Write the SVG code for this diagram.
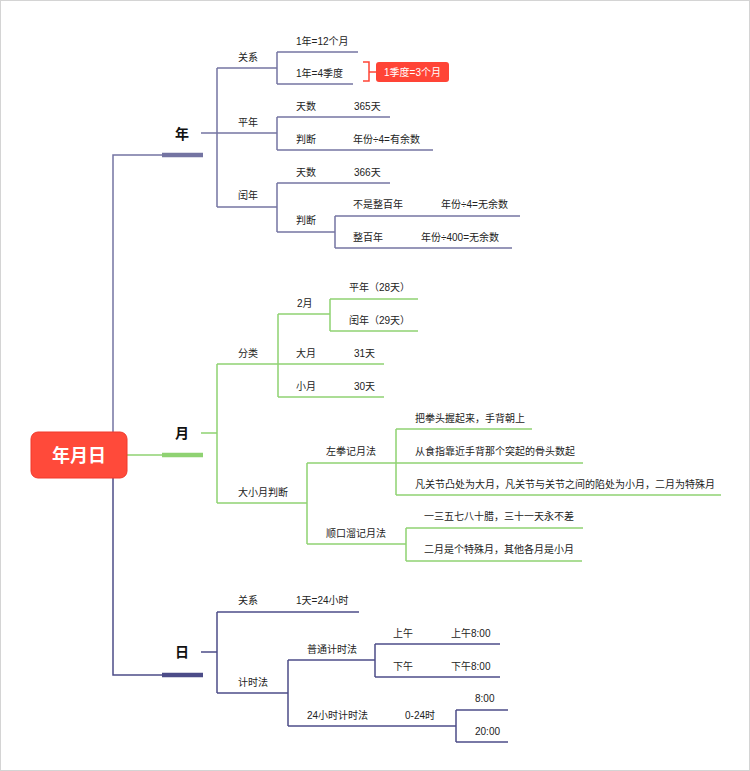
<svg xmlns="http://www.w3.org/2000/svg" width="750" height="771" viewBox="0 0 750 771">
<style>
text{font-family:"Liberation Sans","Noto Sans CJK SC",sans-serif;font-size:10px;fill:#222}
.b{font-weight:bold;font-size:14px;fill:#111}
.root{font-weight:bold;font-size:18px;fill:#fff}
.w{fill:#fff}
line,path{fill:none;stroke-width:1.5}
.y{stroke:#7474a2}
.m{stroke:#8fd272}
.d{stroke:#4c4c88}
.bar{stroke-width:4.5}
</style>
<rect x="0.5" y="0.5" width="749" height="770" fill="#fff" stroke="#d4d4d4"/>
<g id="connectors">
<path class="y" d="M113 455V155H162"/>
<path class="d" d="M113 455V675H162"/>
<path class="m" d="M127 455H162"/>
<line class="y bar" x1="162" y1="155" x2="203" y2="155"/>
<line class="m bar" x1="162" y1="455" x2="203" y2="455"/>
<line class="d bar" x1="162" y1="675" x2="203" y2="675"/>
<path class="y" d="M201 133H217M217 68V207M277 52V84M277 117V150M277 183V232M335 216V248"/>
<path class="m" d="M201 433H217M217 364V503M278 314V397M330 299V331M307 463V544M396 429V495M406 528V561"/>
<path class="d" d="M201 652H217M217 612V693M288 660V726M375 644V677M456 710V742"/>
<path d="M363 62H369V81H363M369 72H376" stroke="#ff4436"/>
</g>
<g id="root"><rect x="31" y="432" width="96" height="46" rx="7" fill="#ff4a3a" stroke="#f0382a"/><text class="root" x="79" y="462" text-anchor="middle">年月日</text></g>
<g id="n-year"><text class="b" x="182" y="139" text-anchor="middle">年</text></g>
<g id="n-month"><text class="b" x="182" y="438" text-anchor="middle">月</text></g>
<g id="n-day"><text class="b" x="182" y="657" text-anchor="middle">日</text></g>
<g id="y-guanxi"><text x="238" y="61">关系</text><line class="y" x1="217" y1="68" x2="277" y2="68"/></g>
<g id="y-12"><text x="296" y="45">1年=12个月</text><line class="y" x1="277" y1="52" x2="358" y2="52"/></g>
<g id="y-4"><text x="296" y="77">1年=4季度</text><line class="y" x1="277" y1="84" x2="353" y2="84"/></g>
<g id="y-callout"><rect x="376" y="62" width="73" height="20" rx="3" fill="#ff4436"/><text class="w" x="412.5" y="76" text-anchor="middle">1季度=3个月</text></g>
<g id="y-pingnian"><text x="238" y="126">平年</text><line class="y" x1="217" y1="133" x2="277" y2="133"/></g>
<g id="y-p-tianshu"><text x="296" y="110">天数</text><line class="y" x1="277" y1="117" x2="340" y2="117"/></g>
<g id="y-p-365"><text x="354" y="110">365天</text><line class="y" x1="340" y1="117" x2="390" y2="117"/></g>
<g id="y-p-panduan"><text x="296" y="143">判断</text><line class="y" x1="277" y1="150" x2="340" y2="150"/></g>
<g id="y-p-rule"><text x="353" y="143">年份÷4=有余数</text><line class="y" x1="340" y1="150" x2="433" y2="150"/></g>
<g id="y-runnian"><text x="238" y="199">闰年</text><line class="y" x1="217" y1="207" x2="277" y2="207"/></g>
<g id="y-r-tianshu"><text x="296" y="176">天数</text><line class="y" x1="277" y1="183" x2="340" y2="183"/></g>
<g id="y-r-366"><text x="354" y="176">366天</text><line class="y" x1="340" y1="183" x2="390" y2="183"/></g>
<g id="y-r-panduan"><text x="296" y="224">判断</text><line class="y" x1="277" y1="232" x2="335" y2="232"/></g>
<g id="y-r-bushi"><text x="353" y="208">不是整百年</text><line class="y" x1="335" y1="216" x2="430" y2="216"/></g>
<g id="y-r-bushi-rule"><text x="441" y="208">年份÷4=无余数</text><line class="y" x1="430" y1="216" x2="520" y2="216"/></g>
<g id="y-r-zheng"><text x="353" y="241">整百年</text><line class="y" x1="335" y1="248" x2="412" y2="248"/></g>
<g id="y-r-zheng-rule"><text x="421" y="241">年份÷400=无余数</text><line class="y" x1="412" y1="248" x2="512" y2="248"/></g>
<g id="m-fenlei"><text x="238" y="357">分类</text><line class="m" x1="217" y1="364" x2="278" y2="364"/></g>
<g id="m-2"><text x="297" y="307">2月</text><line class="m" x1="278" y1="314" x2="330" y2="314"/></g>
<g id="m-28"><text x="349" y="291">平年（28天）</text><line class="m" x1="330" y1="299" x2="418" y2="299"/></g>
<g id="m-29"><text x="349" y="324">闰年（29天）</text><line class="m" x1="330" y1="331" x2="418" y2="331"/></g>
<g id="m-da"><text x="296" y="357">大月</text><line class="m" x1="278" y1="364" x2="340" y2="364"/></g>
<g id="m-31"><text x="354" y="357">31天</text><line class="m" x1="340" y1="364" x2="384" y2="364"/></g>
<g id="m-xiao"><text x="296" y="390">小月</text><line class="m" x1="278" y1="397" x2="340" y2="397"/></g>
<g id="m-30"><text x="354" y="390">30天</text><line class="m" x1="340" y1="397" x2="384" y2="397"/></g>
<g id="m-pd"><text x="238" y="496">大小月判断</text><line class="m" x1="217" y1="503" x2="307" y2="503"/></g>
<g id="m-zq"><text x="326" y="455">左拳记月法</text><line class="m" x1="307" y1="463" x2="396" y2="463"/></g>
<g id="m-zq1"><text x="415" y="422">把拳头握起来，手背朝上</text><line class="m" x1="396" y1="429" x2="532" y2="429"/></g>
<g id="m-zq2"><text x="415" y="455">从食指靠近手背那个突起的骨头数起</text><line class="m" x1="396" y1="463" x2="583" y2="463"/></g>
<g id="m-zq3"><text x="415" y="488">凡关节凸处为大月，凡关节与关节之间的陷处为小月，二月为特殊月</text><line class="m" x1="396" y1="495" x2="721" y2="495"/></g>
<g id="m-sk"><text x="326" y="537">顺口溜记月法</text><line class="m" x1="307" y1="544" x2="406" y2="544"/></g>
<g id="m-sk1"><text x="424" y="520">一三五七八十腊，三十一天永不差</text><line class="m" x1="406" y1="528" x2="583" y2="528"/></g>
<g id="m-sk2"><text x="424" y="553">二月是个特殊月，其他各月是小月</text><line class="m" x1="406" y1="561" x2="582" y2="561"/></g>
<g id="d-guanxi"><text x="238" y="604">关系</text><line class="d" x1="217" y1="612" x2="280" y2="612"/></g>
<g id="d-24"><text x="296" y="604">1天=24小时</text><line class="d" x1="280" y1="612" x2="359" y2="612"/></g>
<g id="d-jsf"><text x="238" y="686">计时法</text><line class="d" x1="217" y1="693" x2="288" y2="693"/></g>
<g id="d-pt"><text x="307" y="653">普通计时法</text><line class="d" x1="288" y1="660" x2="375" y2="660"/></g>
<g id="d-sw"><text x="393" y="637">上午</text><line class="d" x1="375" y1="644" x2="440" y2="644"/></g>
<g id="d-sw8"><text x="451" y="637">上午8:00</text><line class="d" x1="440" y1="644" x2="500" y2="644"/></g>
<g id="d-xw"><text x="393" y="670">下午</text><line class="d" x1="375" y1="677" x2="440" y2="677"/></g>
<g id="d-xw8"><text x="451" y="670">下午8:00</text><line class="d" x1="440" y1="677" x2="500" y2="677"/></g>
<g id="d-24h"><text x="307" y="719">24小时计时法</text><line class="d" x1="288" y1="726" x2="390" y2="726"/></g>
<g id="d-024"><text x="405" y="719">0-24时</text><line class="d" x1="390" y1="726" x2="456" y2="726"/></g>
<g id="d-8"><text x="475" y="702">8:00</text><line class="d" x1="456" y1="710" x2="508" y2="710"/></g>
<g id="d-20"><text x="475" y="735">20:00</text><line class="d" x1="456" y1="742" x2="508" y2="742"/></g>
</svg>
